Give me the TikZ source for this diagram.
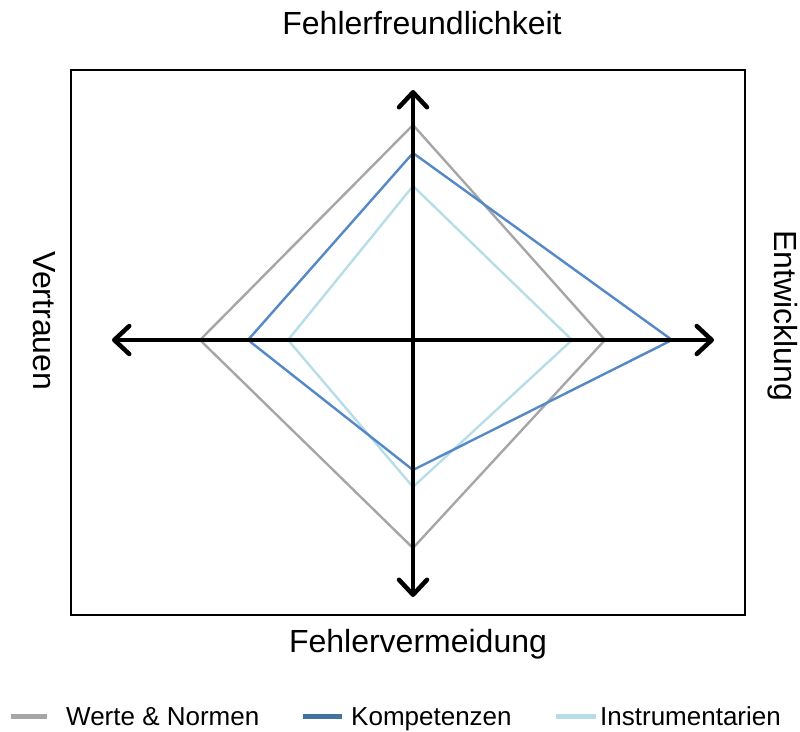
\documentclass[tikz,border=0pt]{standalone}
\usepackage{fontspec}
\setmainfont{Liberation Sans}
\usetikzlibrary{arrows.meta}
\definecolor{qmGray}{HTML}{A6A6A6}
\definecolor{qmBlue}{HTML}{5588C6}
\definecolor{qmBlueDark}{HTML}{44729F}
\definecolor{qmLight}{HTML}{B7DEE8}
\tikzset{
  qmtip/.tip={Straight Barb[length=15pt, width=28pt, line width=4.5pt, round]},
  qm frame/.style={draw=black, line width=1.5pt},
  qm axis/.style={draw=black, line width=4.5pt, line cap=round, qmtip-qmtip},
  qm poly/.style={line width=2.4pt, line join=miter},
  qm label/.style={font=\fontsize{32}{36}\selectfont, text=black, inner sep=0pt},
  qm legend/.style={font=\fontsize{26}{30}\selectfont, text=black, inner sep=0pt, anchor=base west},
  qm swatch/.style={line width=5pt},
}

\begin{document}
\begin{tikzpicture}[x=1pt, y=-1pt]
  \useasboundingbox (0,0) rectangle (800,731);

  % Frame
  \draw[qm frame] (71,70) rectangle (745,615);

  % Diamonds (top, right, bottom, left)
  \draw[qm poly, qmGray] (413,125) -- (605,340) -- (413,548) -- (200,340) -- cycle;
  \draw[qm poly, qmLight] (413,186) -- (572,340) -- (413,487) -- (288,340) -- cycle;
  \draw[qm poly, qmBlue] (413,153) -- (672,340) -- (413,470) -- (248,340) -- cycle;

  % Axes with arrowheads both ways
  \coordinate (top) at (413,90);
  \coordinate (bottom) at (413,597);
  \coordinate (left) at (112,340);
  \coordinate (right) at (714,340);
  \draw[qm axis] (left) -- (right);
  \draw[qm axis] (bottom) -- (top);

  % Axis names
  \node[qm label] (fehlerfreund) at (422,23) {Fehlerfreundlichkeit};
  \node[qm label] (fehlervermeid) at (418,644) {Fehlervermeidung};
  \node[qm label, rotate=-90] (vertrauen) at (44,321) {Vertrauen};
  \node[qm label, rotate=-90] (entwicklung) at (783,316) {Entwicklung};

  % Legend
  \coordinate (sw1a) at (11,716);  \coordinate (sw1b) at (47,716);
  \coordinate (sw2a) at (303,716); \coordinate (sw2b) at (342,716);
  \coordinate (sw3a) at (556,716); \coordinate (sw3b) at (596,716);
  \draw[qm swatch, qmGray] (sw1a) -- (sw1b);
  \draw[qm swatch, qmBlueDark] (sw2a) -- (sw2b);
  \draw[qm swatch, qmLight] (sw3a) -- (sw3b);
  \node[qm legend] (werte) at (66,725) {Werte \& Normen};
  \node[qm legend] (kompetenz) at (351,725) {Kompetenzen};
  \node[qm legend] (instrument) at (600,725) {Instrumentarien};
\end{tikzpicture}
\end{document}
